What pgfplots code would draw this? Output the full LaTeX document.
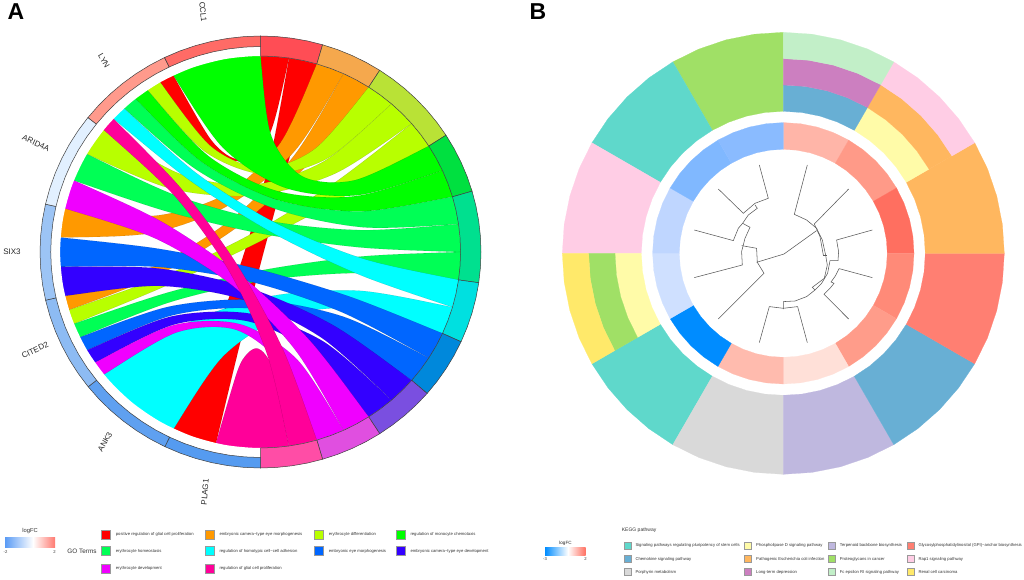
\documentclass[border=0pt]{standalone}
\usepackage{pgfplots}
\pgfplotsset{compat=1.18}
\usepgfplotslibrary{polar}
\usepackage{fontspec}
\setmainfont{Liberation Sans}
\definecolor{rR}{HTML}{FF0000}\definecolor{rO}{HTML}{FF9900}\definecolor{rL}{HTML}{B8FF00}\definecolor{rG}{HTML}{00FF00}
\definecolor{rS}{HTML}{00FF55}\definecolor{rC}{HTML}{00FFFF}\definecolor{rA}{HTML}{0066FF}\definecolor{rI}{HTML}{3300FF}
\definecolor{rM}{HTML}{F000FF}\definecolor{rP}{HTML}{FF0099}
\definecolor{tR}{HTML}{FF4D55}\definecolor{tO}{HTML}{F5A84D}\definecolor{tL}{HTML}{B9E236}\definecolor{tG}{HTML}{00E040}
\definecolor{tS}{HTML}{00E08F}\definecolor{tC}{HTML}{00E0E0}\definecolor{tA}{HTML}{0088DB}\definecolor{tI}{HTML}{7A4FE0}
\definecolor{tM}{HTML}{E04FE0}\definecolor{tP}{HTML}{FF4DA6}
\definecolor{g1}{HTML}{FF6B66}\definecolor{g2}{HTML}{FF9A8C}\definecolor{g3}{HTML}{E2F0FF}\definecolor{g4}{HTML}{9CC4F5}
\definecolor{g5}{HTML}{8DBBF3}\definecolor{g6}{HTML}{5FA0F0}\definecolor{g7}{HTML}{559BF0}
\definecolor{kTeal}{HTML}{5FD8CB}\definecolor{kGreen}{HTML}{A0E066}\definecolor{kLG}{HTML}{C2EFC8}\definecolor{kPur}{HTML}{CC7FC0}
\definecolor{kBlue}{HTML}{68AFD4}\definecolor{kPink}{HTML}{FFCDE5}\definecolor{kOr}{HTML}{FFB75F}\definecolor{kPY}{HTML}{FFFBA8}
\definecolor{kSal}{HTML}{FF7F72}\definecolor{kLav}{HTML}{BFB8DF}\definecolor{kGray}{HTML}{D9D9D9}\definecolor{kY}{HTML}{FFE96A}
\definecolor{i1}{HTML}{FFB5A8}\definecolor{i2}{HTML}{FF9A88}\definecolor{i3}{HTML}{FF6F60}\definecolor{i4}{HTML}{FF8A78}
\definecolor{i5}{HTML}{FF9C8A}\definecolor{i6}{HTML}{FFE0D8}\definecolor{i7}{HTML}{FFBBAE}\definecolor{i8}{HTML}{008CFF}
\definecolor{i9}{HTML}{CFE0FF}\definecolor{i10}{HTML}{BFD6FF}\definecolor{i11}{HTML}{80B8FF}\definecolor{i12}{HTML}{8ABBFF}
\definecolor{cbB}{HTML}{5A9BF5}\definecolor{cbR}{HTML}{FF7A70}
\pgfplotsset{
  base/.style={hide axis,clip=false,xmin=-230,xmax=230,ymin=-230,ymax=230,y=1pt},
  rib/.style={fill=#1,draw=black,draw opacity=0.25,line width=0.15pt,smooth,forget plot},
  seg/.style={data cs=polar,fill=#1,draw=black!75,line width=0.5pt,forget plot},
  sec/.style={data cs=polar,fill=#1,draw=#1,line width=0.2pt,forget plot},
  den/.style={draw=black!65,line width=0.55pt,forget plot},
  sw/.style={only marks,mark=square*,mark size=#1,forget plot},
}
\begin{document}
\begin{tikzpicture}[x=1pt,y=1pt]
\useasboundingbox (0,0) rectangle (1024pt,579pt);
% ---------- A: chord diagram ----------
\begin{axis}[base,x=1.0208pt,at={(260.5pt,327pt)},anchor=origin]
\addplot[rib=rR] coordinates {(29.6,205.6)(27.9,194)(9.6,119.7)(-17.6,90.9)(-53.5,107.5)(-98.2,169.6)(-104.1,179.8)(-90.4,187.1)(-85.3,176.5)(-48,111.5)(-21.3,93.1)(-5.3,121.3)(0,196)(0,207.8)} --cycle;
\addplot[rib=rR] coordinates {(58.5,199.4)(55.2,188.1)(28.3,93.9)(2.9,-0.8)(-21.1,-95.8)(-43.6,-191.1)(-46.2,-202.6)(-90.1,-187.2)(-85,-176.6)(-46.1,-87.2)(-14.3,4.4)(10.4,98.1)(27.9,194)(29.6,205.6)} --cycle;
\addplot[rib=rO] coordinates {(86.3,189)(81.4,178.3)(33.6,101.2)(-28.5,48.2)(-104.9,19.3)(-195.5,14.5)(-207.2,15.4)(-202.6,46)(-191.1,43.4)(-104.1,36.2)(-34,57.9)(19.1,108.6)(55.2,188.1)(58.5,199.4)} --cycle;
\addplot[rib=rO] coordinates {(112.4,174.8)(106,164.9)(47.9,89.2)(-20.3,26.8)(-98.7,-22.3)(-187.2,-57.9)(-198.4,-61.4)(-202.6,-46.4)(-191.1,-43.8)(-102.5,-13.5)(-27.4,33.6)(33.8,97.6)(81.4,178.3)(86.3,189)} --cycle;
\addplot[rib=rL] coordinates {(136.1,157)(128.4,148.1)(65.3,93.5)(4.4,77.5)(-54.3,100.3)(-110.7,161.8)(-117.3,171.5)(-104.1,179.8)(-98.2,169.6)(-48.6,105.7)(2,83.6)(53.5,103.4)(106,164.9)(112.4,174.8)} --cycle;
\addplot[rib=rL] coordinates {(157,136.1)(148.1,128.4)(72.7,78.3)(-5.5,56.6)(-86.4,63)(-169.9,97.8)(-180.1,103.7)(-162.6,129.3)(-153.4,122)(-78.3,77.9)(-6.3,67.5)(62.6,91)(128.4,148.1)(136.1,157)} --cycle;
\addplot[rib=rL] coordinates {(174.8,112.4)(164.9,106)(81.4,55.1)(-4.4,8.6)(-92.3,-33.7)(-182.4,-71.7)(-193.3,-76)(-198.4,-61.4)(-187.2,-57.9)(-96,-24.5)(-9.8,17.6)(71.6,68.6)(148.1,128.4)(157,136.1)} --cycle;
\addplot[rib=rG] coordinates {(189,86.3)(178.3,81.4)(95,56.8)(23.3,64.5)(-36.9,104.4)(-85.3,176.5)(-90.4,187.1)(-46,205)(0,207.8)(0,196)(10.3,116.9)(41.2,75.5)(92.8,71.9)(164.9,106)(174.8,112.4)} --cycle;
\addplot[rib=rG] coordinates {(199.4,58.5)(188.1,55.2)(98.2,40.6)(16.4,52.1)(-57.1,89.6)(-122.4,153.1)(-129.7,162.3)(-117.3,171.5)(-110.7,161.8)(-51.2,96.1)(16.9,60.8)(93.4,55.9)(178.3,81.4)(189,86.3)} --cycle;
\addplot[rib=rS] coordinates {(205.6,29.6)(194,27.9)(100.8,24.7)(15.1,42.9)(-63,82.5)(-133.5,143.5)(-141.5,152.1)(-129.7,162.3)(-122.4,153.1)(-57.1,89.6)(16.4,52.1)(98.2,40.6)(188.1,55.2)(199.4,58.5)} --cycle;
\addplot[rib=rS] coordinates {(207.8,0)(196,0)(98.8,4.5)(3.4,17.9)(-90.5,40.2)(-182.5,71.4)(-193.5,75.7)(-180.1,103.7)(-169.9,97.8)(-83.5,56.8)(6,31.4)(98.5,21.9)(194,27.9)(205.6,29.6)} --cycle;
\addplot[rib=rS] coordinates {(205.6,-29.6)(194,-27.9)(98.1,-21)(4.4,-28.3)(-87.2,-49.7)(-176.5,-85.1)(-187.1,-90.2)(-193.3,-76)(-182.4,-71.7)(-90.3,-40.4)(3.4,-17.9)(98.9,-4.5)(196,0)(207.8,0)} --cycle;
\addplot[rib=rC] coordinates {(199.4,-58.5)(188.1,-55.2)(96.9,-22.7)(11.1,19.5)(-69.2,71.5)(-143.9,133.1)(-152.5,141.1)(-141.5,152.1)(-133.5,143.5)(-63,79)(15.1,28.9)(100.8,-6.8)(194,-27.9)(205.6,-29.6)} --cycle;
\addplot[rib=rC] coordinates {(189,-86.3)(178.3,-81.4)(95,-56.8)(23.3,-64.5)(-36.7,-104.4)(-85,-176.6)(-90.1,-187.2)(-129.6,-162.6)(-162.4,-129.6)(-153.2,-122.3)(-74.4,-72.3)(8.7,-44.4)(96.3,-38.7)(188.1,-55.2)(199.4,-58.5)} --cycle;
\addplot[rib=rA] coordinates {(174.8,-112.4)(164.9,-106)(80.6,-60.6)(-7.6,-30.2)(-99.6,-15)(-195.4,-14.8)(-207.1,-15.7)(-207.2,15.4)(-195.5,14.5)(-98.9,3.1)(-4.3,-16.7)(88.1,-44.9)(178.3,-81.4)(189,-86.3)} --cycle;
\addplot[rib=rA] coordinates {(157,-136.1)(148.1,-128.4)(72.7,-78.4)(-5.4,-56.6)(-86.3,-63.3)(-169.7,-98.1)(-179.9,-104)(-187.1,-90.2)(-176.5,-85.1)(-89,-54.5)(-2.9,-47.8)(81.8,-64.9)(164.9,-106)(174.8,-112.4)} --cycle;
\addplot[rib=rI] coordinates {(136.1,-157)(128.4,-148.1)(60.3,-86.1)(-15.7,-48)(-99.5,-33.9)(-191.1,-43.8)(-202.6,-46.4)(-207.1,-15.7)(-195.4,-14.8)(-100.7,-16.4)(-11.8,-35.8)(71.1,-73.2)(148.1,-128.4)(157,-136.1)} --cycle;
\addplot[rib=rI] coordinates {(112.4,-174.8)(106,-164.9)(49.5,-99.7)(-14,-68.9)(-84.5,-72.5)(-161.9,-110.5)(-171.6,-117.1)(-179.9,-104)(-169.7,-98.1)(-87.5,-64.5)(-10.3,-61.6)(61.6,-89.5)(128.4,-148.1)(136.1,-157)} --cycle;
\addplot[rib=rM] coordinates {(86.3,-189)(81.4,-178.3)(33.8,-97.6)(-27.4,-33.7)(-102.5,13.3)(-191.1,43.4)(-202.6,46)(-193.5,75.7)(-182.5,71.4)(-96.1,29.9)(-19.1,-23.4)(48.2,-88.3)(106,-164.9)(112.4,-174.8)} --cycle;
\addplot[rib=rM] coordinates {(58.5,-199.4)(55.2,-188.1)(21.5,-113.5)(-24.5,-77.6)(-82.7,-80.6)(-153.2,-122.3)(-162.4,-129.6)(-171.6,-117.1)(-161.9,-110.5)(-86,-73.4)(-20.1,-72.2)(35.7,-107.3)(81.4,-178.3)(86.3,-189)} --cycle;
\addplot[rib=rP] coordinates {(0,-207.8)(-46.2,-202.6)(-43.6,-191.1)(-22.8,-119.7)(-13.1,-101.9)(-3.9,-96.3)(4.8,-102.7)(13,-121.1)(27.9,-194)(29.6,-205.6)} --cycle;
\addplot[rib=rP] coordinates {(29.6,-205.6)(27.9,-194)(6.2,-101.5)(-31.4,-18)(-84.5,56.5)(-153.4,122)(-162.6,129.3)(-152.5,141.1)(-143.9,133.1)(-77.5,63.2)(-22.2,-13.8)(22.1,-97.5)(55.2,-188.1)(58.5,-199.4)} --cycle;
% white ring over the ribbon ends
\addplot[data cs=polar,white,line width=29pt,smooth,forget plot] coordinates {(-20,210.5)(-10,210.5)(0,210.5)(10,210.5)(20,210.5)(30,210.5)(40,210.5)(50,210.5)(60,210.5)(70,210.5)(80,210.5)(90,210.5)(100,210.5)(110,210.5)(120,210.5)(130,210.5)(140,210.5)(150,210.5)(160,210.5)(170,210.5)(180,210.5)(190,210.5)(200,210.5)(210,210.5)(220,210.5)(230,210.5)(240,210.5)(250,210.5)(260,210.5)(270,210.5)(280,210.5)(290,210.5)(300,210.5)(310,210.5)(320,210.5)(330,210.5)(340,210.5)(350,210.5)(360,210.5)(370,210.5)};
% term ring
\addplot[seg=tR] coordinates {(90,216)(85.9,216)(81.8,216)(77.7,216)(73.64,216)(73.64,196)(77.7,196)(81.8,196)(85.9,196)(90,196)} --cycle;
\addplot[seg=tO] coordinates {(73.64,216)(69.5,216)(65.5,216)(61.4,216)(57.27,216)(57.27,196)(61.4,196)(65.5,196)(69.5,196)(73.64,196)} --cycle;
\addplot[seg=tL] coordinates {(57.27,216)(53.2,216)(49.1,216)(45,216)(40.9,216)(36.8,216)(32.73,216)(32.73,196)(36.8,196)(40.9,196)(45,196)(49.1,196)(53.2,196)(57.27,196)} --cycle;
\addplot[seg=tG] coordinates {(32.73,216)(28.6,216)(24.5,216)(20.5,216)(16.36,216)(16.36,196)(20.5,196)(24.5,196)(28.6,196)(32.73,196)} --cycle;
\addplot[seg=tS] coordinates {(16.36,216)(12.3,216)(8.2,216)(4.1,216)(0,216)(-4.1,216)(-8.18,216)(-8.18,196)(-4.1,196)(0,196)(4.1,196)(8.2,196)(12.3,196)(16.36,196)} --cycle;
\addplot[seg=tC] coordinates {(-8.18,216)(-12.3,216)(-16.4,216)(-20.5,216)(-24.55,216)(-24.55,196)(-20.5,196)(-16.4,196)(-12.3,196)(-8.18,196)} --cycle;
\addplot[seg=tA] coordinates {(-24.55,216)(-28.6,216)(-32.7,216)(-36.8,216)(-40.91,216)(-40.91,196)(-36.8,196)(-32.7,196)(-28.6,196)(-24.55,196)} --cycle;
\addplot[seg=tI] coordinates {(-40.91,216)(-45,216)(-49.1,216)(-53.2,216)(-57.27,216)(-57.27,196)(-53.2,196)(-49.1,196)(-45,196)(-40.91,196)} --cycle;
\addplot[seg=tM] coordinates {(-57.27,216)(-61.4,216)(-65.5,216)(-69.5,216)(-73.64,216)(-73.64,196)(-69.5,196)(-65.5,196)(-61.4,196)(-57.27,196)} --cycle;
\addplot[seg=tP] coordinates {(-73.64,216)(-77.7,216)(-81.8,216)(-85.9,216)(-90,216)(-90,196)(-85.9,196)(-81.8,196)(-77.7,196)(-73.64,196)} --cycle;
% gene ring
\addplot[seg=g7] coordinates {(270,216)(265.7,216)(261.4,216)(257.2,216)(252.9,216)(248.6,216)(244.3,216)(244.3,205.5)(248.6,205.5)(252.9,205.5)(257.2,205.5)(261.4,205.5)(265.7,205.5)(270,205.5)} --cycle;
\addplot[seg=g6] coordinates {(244.3,216)(240,216)(235.7,216)(231.5,216)(227.2,216)(222.9,216)(218.6,216)(218.6,205.5)(222.9,205.5)(227.2,205.5)(231.5,205.5)(235.7,205.5)(240,205.5)(244.3,205.5)} --cycle;
\addplot[seg=g5] coordinates {(218.6,216)(214.3,216)(210,216)(205.8,216)(201.5,216)(197.2,216)(192.9,216)(192.9,205.5)(197.2,205.5)(201.5,205.5)(205.8,205.5)(210,205.5)(214.3,205.5)(218.6,205.5)} --cycle;
\addplot[seg=g4] coordinates {(192.9,216)(188.6,216)(184.3,216)(180,216)(175.8,216)(171.5,216)(167.2,216)(167.2,205.5)(171.5,205.5)(175.8,205.5)(180,205.5)(184.3,205.5)(188.6,205.5)(192.9,205.5)} --cycle;
\addplot[seg=g3] coordinates {(167.2,216)(162.9,216)(158.6,216)(154.3,216)(150.1,216)(145.8,216)(141.5,216)(141.5,205.5)(145.8,205.5)(150.1,205.5)(154.3,205.5)(158.6,205.5)(162.9,205.5)(167.2,205.5)} --cycle;
\addplot[seg=g2] coordinates {(141.5,216)(137.2,216)(132.9,216)(128.7,216)(124.4,216)(120.1,216)(115.8,216)(115.8,205.5)(120.1,205.5)(124.4,205.5)(128.7,205.5)(132.9,205.5)(137.2,205.5)(141.5,205.5)} --cycle;
\addplot[seg=g1] coordinates {(115.8,216)(111.5,216)(107.2,216)(102.9,216)(98.6,216)(94.3,216)(90,216)(90,205.5)(94.3,205.5)(98.6,205.5)(102.9,205.5)(107.2,205.5)(111.5,205.5)(115.8,205.5)} --cycle;
\end{axis}
% ---------- B: circular pathway plot ----------
\begin{axis}[base,x=1pt,at={(783.3pt,325.7pt)},anchor=origin]
\addplot[sec=kTeal] coordinates {(-120,142)(-127.5,142)(-135,142)(-142.5,142)(-150,142)(-150,221)(-142.5,221)(-135,221)(-127.5,221)(-120,221)} --cycle;
\addplot[sec=kGreen] coordinates {(120,142)(112.5,142)(105,142)(97.5,142)(90,142)(90,221)(97.5,221)(105,221)(112.5,221)(120,221)} --cycle;
\addplot[sec=kTeal] coordinates {(150,142)(142.5,142)(135,142)(127.5,142)(120,142)(120,221)(127.5,221)(135,221)(142.5,221)(150,221)} --cycle;
\addplot[sec=kPink] coordinates {(180,142)(172.5,142)(165,142)(157.5,142)(150,142)(150,221)(157.5,221)(165,221)(172.5,221)(180,221)} --cycle;
\addplot[sec=kPY] coordinates {(210,142)(202.5,142)(195,142)(187.5,142)(180,142)(180,168.3)(187.5,168.3)(195,168.3)(202.5,168.3)(210,168.3)} --cycle;
\addplot[sec=kGreen] coordinates {(210,168.3)(202.5,168.3)(195,168.3)(187.5,168.3)(180,168.3)(180,194.7)(187.5,194.7)(195,194.7)(202.5,194.7)(210,194.7)} --cycle;
\addplot[sec=kY] coordinates {(210,194.7)(202.5,194.7)(195,194.7)(187.5,194.7)(180,194.7)(180,221)(187.5,221)(195,221)(202.5,221)(210,221)} --cycle;
\addplot[sec=kGray] coordinates {(270,142)(262.5,142)(255,142)(247.5,142)(240,142)(240,221)(247.5,221)(255,221)(262.5,221)(270,221)} --cycle;
\addplot[sec=kLav] coordinates {(300,142)(292.5,142)(285,142)(277.5,142)(270,142)(270,221)(277.5,221)(285,221)(292.5,221)(300,221)} --cycle;
\addplot[sec=kBlue] coordinates {(330,142)(322.5,142)(315,142)(307.5,142)(300,142)(300,221)(307.5,221)(315,221)(322.5,221)(330,221)} --cycle;
\addplot[sec=kSal] coordinates {(360,142)(352.5,142)(345,142)(337.5,142)(330,142)(330,221)(337.5,221)(345,221)(352.5,221)(360,221)} --cycle;
\addplot[sec=kOr] coordinates {(30,142)(22.5,142)(15,142)(7.5,142)(0,142)(0,221)(7.5,221)(15,221)(22.5,221)(30,221)} --cycle;
\addplot[sec=kPY] coordinates {(60,142)(52.5,142)(45,142)(37.5,142)(30,142)(30,168.3)(37.5,168.3)(45,168.3)(52.5,168.3)(60,168.3)} --cycle;
\addplot[sec=kOr] coordinates {(60,168.3)(52.5,168.3)(45,168.3)(37.5,168.3)(30,168.3)(30,194.7)(37.5,194.7)(45,194.7)(52.5,194.7)(60,194.7)} --cycle;
\addplot[sec=kPink] coordinates {(60,194.7)(52.5,194.7)(45,194.7)(37.5,194.7)(30,194.7)(30,221)(37.5,221)(45,221)(52.5,221)(60,221)} --cycle;
\addplot[sec=kBlue] coordinates {(90,142)(82.5,142)(75,142)(67.5,142)(60,142)(60,168.3)(67.5,168.3)(75,168.3)(82.5,168.3)(90,168.3)} --cycle;
\addplot[sec=kPur] coordinates {(90,168.3)(82.5,168.3)(75,168.3)(67.5,168.3)(60,168.3)(60,194.7)(67.5,194.7)(75,194.7)(82.5,194.7)(90,194.7)} --cycle;
\addplot[sec=kLG] coordinates {(90,194.7)(82.5,194.7)(75,194.7)(67.5,194.7)(60,194.7)(60,221)(67.5,221)(75,221)(82.5,221)(90,221)} --cycle;
% inner ring
\addplot[sec=i1] coordinates {(90,104)(82.5,104)(75,104)(67.5,104)(60,104)(60,130.7)(67.5,130.7)(75,130.7)(82.5,130.7)(90,130.7)} --cycle;
\addplot[sec=i2] coordinates {(60,104)(52.5,104)(45,104)(37.5,104)(30,104)(30,130.7)(37.5,130.7)(45,130.7)(52.5,130.7)(60,130.7)} --cycle;
\addplot[sec=i3] coordinates {(30,104)(22.5,104)(15,104)(7.5,104)(0,104)(0,130.7)(7.5,130.7)(15,130.7)(22.5,130.7)(30,130.7)} --cycle;
\addplot[sec=i4] coordinates {(360,104)(352.5,104)(345,104)(337.5,104)(330,104)(330,130.7)(337.5,130.7)(345,130.7)(352.5,130.7)(360,130.7)} --cycle;
\addplot[sec=i5] coordinates {(330,104)(322.5,104)(315,104)(307.5,104)(300,104)(300,130.7)(307.5,130.7)(315,130.7)(322.5,130.7)(330,130.7)} --cycle;
\addplot[sec=i6] coordinates {(300,104)(292.5,104)(285,104)(277.5,104)(270,104)(270,130.7)(277.5,130.7)(285,130.7)(292.5,130.7)(300,130.7)} --cycle;
\addplot[sec=i7] coordinates {(270,104)(262.5,104)(255,104)(247.5,104)(240,104)(240,130.7)(247.5,130.7)(255,130.7)(262.5,130.7)(270,130.7)} --cycle;
\addplot[sec=i8] coordinates {(240,104)(232.5,104)(225,104)(217.5,104)(210,104)(210,130.7)(217.5,130.7)(225,130.7)(232.5,130.7)(240,130.7)} --cycle;
\addplot[sec=i9] coordinates {(210,104)(202.5,104)(195,104)(187.5,104)(180,104)(180,130.7)(187.5,130.7)(195,130.7)(202.5,130.7)(210,130.7)} --cycle;
\addplot[sec=i10] coordinates {(180,104)(172.5,104)(165,104)(157.5,104)(150,104)(150,130.7)(157.5,130.7)(165,130.7)(172.5,130.7)(180,130.7)} --cycle;
\addplot[sec=i11] coordinates {(150,104)(142.5,104)(135,104)(127.5,104)(120,104)(120,130.7)(127.5,130.7)(135,130.7)(142.5,130.7)(150,130.7)} --cycle;
\addplot[sec=i12] coordinates {(120,104)(112.5,104)(105,104)(97.5,104)(90,104)(90,130.7)(97.5,130.7)(105,130.7)(112.5,130.7)(120,130.7)} --cycle;
% dendrogram
\addplot[den] coordinates {(24,88.3)(11,39)(23.3,33.3)(33.3,25)(39,13.3)(42.3,-1.7)};
\addplot[den] coordinates {(40,-1.7)(43.7,-1.7)};
\addplot[den] coordinates {(65.3,64.3)(31,29.3)(36.7,16.7)(40,-1.7)};
\addplot[den] coordinates {(-26.7,-9)(0.7,-0.7)(33.3,22.7)};
\addplot[den] coordinates {(42.3,-1.7)(44,-11.7)(41,-25)(29,-34)(31.7,-36.7)};
\addplot[den] coordinates {(31.7,-36.7)(23.3,-43.3)(11.7,-47.7)(0,-48.3)(0,-55.7)};
\addplot[den] coordinates {(-24,-89.3)(-14,-53.3)(0,-55)(14.3,-53.3)(24,-89.3)};
\addplot[den] coordinates {(89,23.3)(53.3,13.3)(55.3,1.7)(54.7,-7.3)(46.7,-7.3)(44.3,-20)(38.3,-30)(31.7,-36.7)};
\addplot[den] coordinates {(89,-24.3)(55.7,-15.3)(52.3,-22.3)(47.7,-28.7)(50.7,-30)(46.7,-35)(40.7,-41)(65.3,-65.7)};
\addplot[den] coordinates {(-24,88.3)(-15,55)(-28.3,50)(-40,40)(-65,64.3)};
\addplot[den] coordinates {(-28.3,48.3)(-26,45)(-35,38.3)(-40.7,30)(-33.3,26)(-38.3,15)(-41.7,1.7)(-41,-11.7)(-89,-24.3)};
\addplot[den] coordinates {(-89,23.3)(-50,12.7)(-45,25)(-40.7,30)};
\addplot[den] coordinates {(-41.7,7.7)(-26.7,5)(-26,-9)(-19.3,-20)(-65,-65.7)};
\end{axis}
% ---------- texts and legends, in picture pixels ----------
\begin{axis}[hide axis,clip=false,scale only axis,at={(0pt,0pt)},anchor=south west,width=1024pt,height=579pt,xmin=0,xmax=1024,ymin=0,ymax=579,y dir=reverse]
\node[font=\bfseries\fontsize{23}{23}\selectfont] at (axis cs:16,12) {A};
\node[font=\bfseries\fontsize{23}{23}\selectfont] at (axis cs:538,12) {B};
\tikzset{gene/.style={font=\fontsize{8}{9}\selectfont,text=black!85,inner sep=0pt}}
\node[gene,rotate=-85] at (axis cs:203,12) {CCL1};
\node[gene,rotate=-60] at (axis cs:104,61) {LYN};
\node[gene,rotate=-25] at (axis cs:36,143) {ARID4A};
\node[gene] at (axis cs:12,252) {SIX3};
\node[gene,rotate=25] at (axis cs:35,350) {CITED2};
\node[gene,rotate=60] at (axis cs:105,442) {ANK3};
\node[gene,rotate=85] at (axis cs:205,492) {PLAG1};
% left legend
\path[left color=cbB,right color=white] (axis cs:5,547) rectangle (axis cs:33,537);
\path[left color=white,right color=cbR] (axis cs:33,547) rectangle (axis cs:55,537);
\tikzset{lt/.style={anchor=west,inner sep=0pt,font=\fontsize{4.2}{5}\selectfont,text=black!80},capt/.style={font=\fontsize{5.8}{7}\selectfont,text=black!80},num/.style={font=\fontsize{4.2}{5}\selectfont,text=black!80}}
\node[capt] at (axis cs:30,531) {logFC};
\node[num] at (axis cs:5.5,552.5) {-2};
\node[num] at (axis cs:54.5,552.5) {2};
\node[font=\fontsize{6.4}{8}\selectfont,text=black!80] at (axis cs:82,551) {GO Terms};
\addplot[sw=4.4,mark options={fill=rR,draw=black!40}] coordinates {(105.7,534.3)};
\addplot[sw=4.4,mark options={fill=rO,draw=black!40}] coordinates {(209.7,534.3)};
\addplot[sw=4.4,mark options={fill=rL,draw=black!40}] coordinates {(319,534.3)};
\addplot[sw=4.4,mark options={fill=rG,draw=black!40}] coordinates {(400.7,534.3)};
\addplot[sw=4.4,mark options={fill=rS,draw=black!40}] coordinates {(105.7,551)};
\addplot[sw=4.4,mark options={fill=rC,draw=black!40}] coordinates {(209.7,551)};
\addplot[sw=4.4,mark options={fill=rA,draw=black!40}] coordinates {(319,551)};
\addplot[sw=4.4,mark options={fill=rI,draw=black!40}] coordinates {(400.7,551)};
\addplot[sw=4.4,mark options={fill=rM,draw=black!40}] coordinates {(105.7,568.3)};
\addplot[sw=4.4,mark options={fill=rP,draw=black!40}] coordinates {(209.7,568.3)};
\node[lt] at (axis cs:115.7,534.3) {positive regulation of glial cell proliferation};
\node[lt] at (axis cs:219.3,534.3) {embryonic camera−type eye morphogenesis};
\node[lt] at (axis cs:328.7,534.3) {erythrocyte differentiation};
\node[lt] at (axis cs:410.3,534.3) {regulation of monocyte chemotaxis};
\node[lt] at (axis cs:115.7,551) {erythrocyte homeostasis};
\node[lt] at (axis cs:219.3,551) {regulation of homotypic cell−cell adhesion};
\node[lt] at (axis cs:328.7,551) {embryonic eye morphogenesis};
\node[lt] at (axis cs:410.3,551) {embryonic camera−type eye development};
\node[lt] at (axis cs:115.7,568.3) {erythrocyte development};
\node[lt] at (axis cs:219.3,568.3) {regulation of glial cell proliferation};
% right legend
\path[left color=i8,right color=white] (axis cs:545,555.3) rectangle (axis cs:568,547.7);
\path[left color=white,right color=i3] (axis cs:568,555.3) rectangle (axis cs:585.7,547.7);
\node[font=\fontsize{4.6}{6}\selectfont,text=black!85] at (axis cs:565.5,543) {logFC};
\node[num] at (axis cs:545,559.5) {-3};
\node[num] at (axis cs:585.5,559.5) {2};
\node[lt,font=\fontsize{5}{6}\selectfont] at (axis cs:621.7,530) {KEGG pathway};
\addplot[sw=3.5,mark options={fill=kTeal,draw=black!40}] coordinates {(627.3,545.3)};
\addplot[sw=3.5,mark options={fill=kBlue,draw=black!40}] coordinates {(627.3,559)};
\addplot[sw=3.5,mark options={fill=kGray,draw=black!40}] coordinates {(627.3,572)};
\addplot[sw=3.5,mark options={fill=kPY,draw=black!40}] coordinates {(748,545.3)};
\addplot[sw=3.5,mark options={fill=kOr,draw=black!40}] coordinates {(748,559)};
\addplot[sw=3.5,mark options={fill=kPur,draw=black!40}] coordinates {(748,572)};
\addplot[sw=3.5,mark options={fill=kLav,draw=black!40}] coordinates {(832,545.3)};
\addplot[sw=3.5,mark options={fill=kGreen,draw=black!40}] coordinates {(832,559)};
\addplot[sw=3.5,mark options={fill=kLG,draw=black!40}] coordinates {(832,572)};
\addplot[sw=3.5,mark options={fill=kSal,draw=black!40}] coordinates {(910.3,545.3)};
\addplot[sw=3.5,mark options={fill=kPink,draw=black!40}] coordinates {(910.3,559)};
\addplot[sw=3.5,mark options={fill=kY,draw=black!40}] coordinates {(910.3,572)};
\node[lt] at (axis cs:635.3,545.3) {Signaling pathways regulating pluripotency of stem cells};
\node[lt] at (axis cs:635.3,559) {Chemokine signaling pathway};
\node[lt] at (axis cs:635.3,572) {Porphyrin metabolism};
\node[lt] at (axis cs:756,545.3) {Phospholipase D signaling pathway};
\node[lt] at (axis cs:756,559) {Pathogenic Escherichia coli infection};
\node[lt] at (axis cs:756,572) {Long-term depression};
\node[lt] at (axis cs:839.7,545.3) {Terpenoid backbone biosynthesis};
\node[lt] at (axis cs:839.7,559) {Proteoglycans in cancer};
\node[lt] at (axis cs:839.7,572) {Fc epsilon RI signaling pathway};
\node[lt] at (axis cs:918.3,545.3) {Glycosylphosphatidylinositol (GPI)−anchor biosynthesis};
\node[lt] at (axis cs:918.3,559) {Rap1 signaling pathway};
\node[lt] at (axis cs:918.3,572) {Renal cell carcinoma};
\end{axis}
\end{tikzpicture}
\end{document}
